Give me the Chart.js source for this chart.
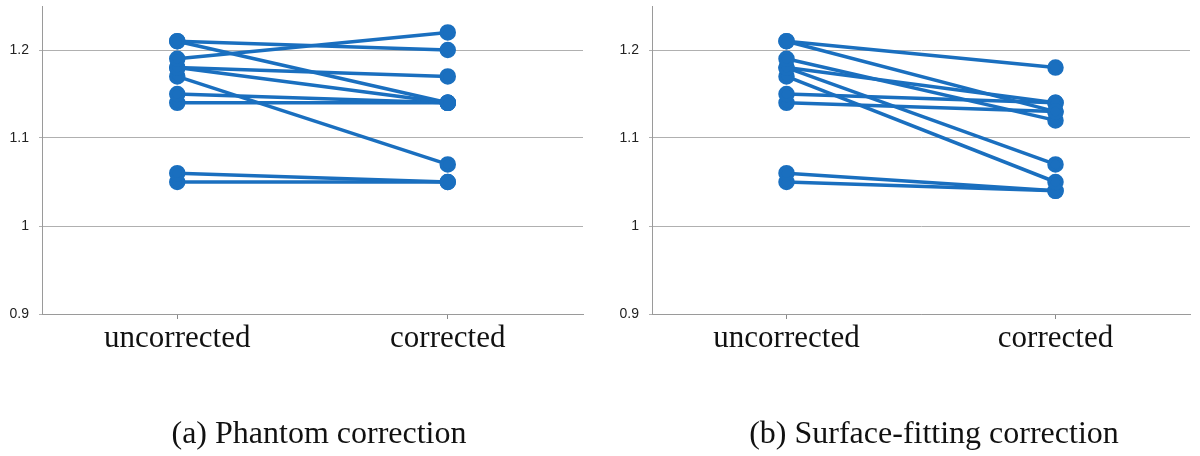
<!DOCTYPE html>
<html>
<head>
<meta charset="utf-8">
<script src="https://cdn.jsdelivr.net/npm/chart.js@4"></script>
<style>
  body { margin: 0; background: #fff; width: 1200px; height: 456px; position: relative; overflow: hidden; }
  .box { position: absolute; top: -4px; height: 460px; }
  .cap { position: absolute; top: 414px; font-family: "Liberation Serif", "Times New Roman", serif; font-size: 32px; color: #111; white-space: nowrap; transform: translateX(-50%); }
</style>
</head>
<body>
<div class="box" style="left:0;width:600px"><canvas id="chartA"></canvas></div>
<div class="box" style="left:610px;width:590px"><canvas id="chartB"></canvas></div>
<div class="cap" style="left:319px">(a) Phantom correction</div>
<div class="cap" style="left:934px">(b) Surface-fitting correction</div>
<script>
// x categories
const categories = ['uncorrected', 'corrected'];

// (a) phantom correction, one value per subject
const phantomUncorrected = [1.21, 1.21, 1.19, 1.18, 1.18, 1.17, 1.15, 1.14, 1.06, 1.05];
const phantomCorrected   = [1.20, 1.14, 1.22, 1.17, 1.14, 1.07, 1.14, 1.14, 1.05, 1.05];

// (b) surface-fitting correction
const surfaceUncorrected = [1.21, 1.21, 1.19, 1.18, 1.18, 1.17, 1.15, 1.14, 1.06, 1.05];
const surfaceCorrected   = [1.18, 1.13, 1.12, 1.14, 1.07, 1.05, 1.14, 1.13, 1.04, 1.04];

const yTicks = [0.9, 1.0, 1.1, 1.2];

const blue = '#1a6fbf';

function makeDatasets(before, after) {
    return before.map(function (b, i) {
        return {
            label: 'subject ' + (i + 1),
            data: [b, after[i]],
            borderColor: blue,
            backgroundColor: blue,
            borderWidth: 3.5,
            pointRadius: 6.5,
            pointHoverRadius: 6.5,
            tension: 0
        };
    });
}

function makeChart(id, before, after, padRight) {
    return new Chart(document.getElementById(id), {
        type: 'line',
        data: { labels: categories, datasets: makeDatasets(before, after) },
        options: {
            responsive: true,
            maintainAspectRatio: false,
            animation: false,
            layout: { padding: { left: 0, right: padRight, top: 2, bottom: 0 } },
            plugins: { legend: { display: false }, tooltip: { enabled: false } },
            scales: {
                x: {
                    offset: true,
                    grid: { display: true, drawOnChartArea: false, offset: false, tickLength: 5, color: '#8a8a8a' },
                    border: { display: true, color: '#9a9a9a', width: 1 },
                    ticks: {
                        padding: 1,
                        color: '#111',
                        font: { family: '"Liberation Serif", "Times New Roman", serif', size: 31 }
                    },
                    afterFit: function (scale) { scale.height = 142; }
                },
                y: {
                    min: 0.9,
                    max: 1.25,
                    grid: { color: '#b0b0b0', tickLength: 3 },
                    border: { display: true, color: '#9a9a9a', width: 1 },
                    ticks: {
                        stepSize: 0.1,
                        padding: 10,
                        color: '#222',
                        font: { family: '"Liberation Sans", Arial, sans-serif', size: 14 },
                        callback: function (v) { return String(Math.round(v * 10) / 10); }
                    },
                    afterBuildTicks: function (scale) {
                        scale.ticks = yTicks.map(function (v) { return { value: v }; });
                    },
                    afterFit: function (scale) {
                        scale.width = 42;
                        scale.paddingTop = 0;
                        scale.paddingBottom = 0;
                    }
                }
            }
        }
    });
}

makeChart('chartA', phantomUncorrected, phantomCorrected, 17);
makeChart('chartB', surfaceUncorrected, surfaceCorrected, 3);
</script>
</body>
</html>
